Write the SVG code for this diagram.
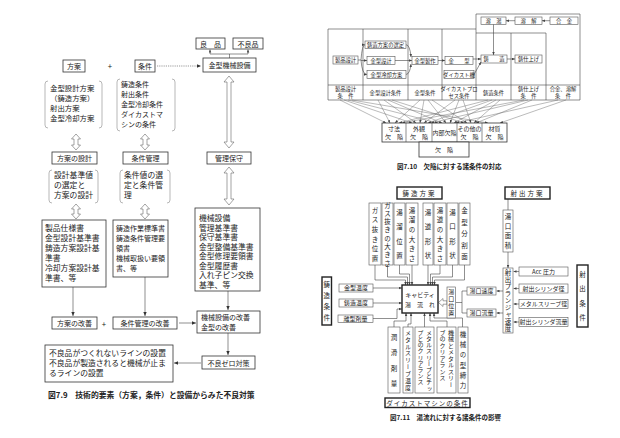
<svg xmlns="http://www.w3.org/2000/svg" width="620" height="438" viewBox="0 0 620 438">
<defs>
<style>
.t{font-family:"Noto Sans CJK JP","Noto Sans",sans-serif;fill:#222}
.f8{font-size:7.8px}
.f75{font-size:7.4px}
.f7{font-size:7px}
.f5{font-size:5.3px}
.f6{font-size:6px}
.f65{font-size:6.5px}
.m{text-anchor:middle}
.bd{font-weight:bold}
.b{fill:#fff;stroke:#333;stroke-width:0.8}
.bk{fill:#fff;stroke:#222;stroke-width:1.4}
.g{fill:#fff;stroke:#555;stroke-width:0.6}
.ln{fill:none;stroke:#444;stroke-width:0.6}
.fl{fill:none;stroke:#666;stroke-width:0.45}
.dl{fill:none;stroke:#555;stroke-width:0.6;stroke-dasharray:1.2 1}
.br{fill:none;stroke:#888;stroke-width:0.6}
.da{fill:#fff;stroke:#666;stroke-width:0.6}
.v{writing-mode:vertical-rl;text-anchor:middle}
.vs{writing-mode:vertical-rl;text-anchor:start}
</style>
<marker id="a" viewBox="0 0 6 6" refX="6" refY="3" markerWidth="4" markerHeight="4" markerUnits="userSpaceOnUse" orient="auto"><path d="M0,0.5 L6,3 L0,5.5 z" fill="#333"/></marker>
<marker id="s" viewBox="0 0 6 6" refX="6" refY="3" markerWidth="3" markerHeight="3" markerUnits="userSpaceOnUse" orient="auto"><path d="M0,0.5 L6,3 L0,5.5 z" fill="#444"/></marker>
</defs>
<rect width="620" height="438" fill="#fff"/>

<!-- ===== Fig 7.9 ===== -->
<g id="connectors-79">
<path class="dl" d="M157,66 H201" marker-end="url(#a)"/>
<path class="ln" d="M229.5,58 V54 M210,54 H248"/>
<path class="ln" d="M210,54 V49.5" marker-end="url(#s)"/>
<path class="ln" d="M248,54 V49.5" marker-end="url(#s)"/>
<path class="da" d="M229,76 L234,82 H231 V142 H234 L229,148 L224,142 H227 V82 H224 Z"/>
<path class="da" d="M229,167 L234,173 H231 V199 H234 L229,205 L224,199 H227 V173 H224 Z"/>
<path class="da" d="M76,134 L80.5,139 H78 V145 H80.5 L76,150 L71.5,145 H74 V139 H71.5 Z"/>
<path class="da" d="M145,134 L149.5,139 H147 V145 H149.5 L145,150 L140.5,145 H143 V139 H140.5 Z"/>
<path class="da" d="M76,204 L80.5,209 H78 V214 H80.5 L76,219 L71.5,214 H74 V209 H71.5 Z"/>
<path class="da" d="M145,204 L149.5,209 H147 V214 H149.5 L145,219 L140.5,214 H143 V209 H140.5 Z"/>
<path class="ln" d="M73,287 V316" marker-end="url(#a)"/>
<path class="ln" d="M145,277 V316" marker-end="url(#a)"/>
<path class="ln" d="M228,291 V310" marker-end="url(#a)"/>
<path class="ln" d="M179,323 H196" marker-end="url(#a)"/>
<path class="ln" d="M228,333 V355" marker-end="url(#a)"/>
<path class="ln" d="M201,363 H174" marker-end="url(#a)"/>
<path class="br" d="M48,81 Q45,81 45,84 V125 Q45,128 48,128 M99,81 Q102,81 102,84 V125 Q102,128 99,128"/>
<path class="br" d="M120,79 Q117,79 117,82 V128 Q117,131 120,131 M172,79 Q175,79 175,82 V128 Q175,131 172,131"/>
<path class="br" d="M52,170 Q49,170 49,173 V200 Q49,203 52,203 M95,170 Q98,170 98,173 V200 Q98,203 95,203"/>
<path class="br" d="M123,170 Q120,170 120,173 V200 Q120,203 123,203 M167,170 Q170,170 170,173 V200 Q170,203 167,203"/>
</g>
<g id="n-ryohin"><rect class="b" x="196" y="38" width="29" height="11"/><text class="t f7 m" x="210.5" y="46.5">良　品</text></g>
<g id="n-furyohin"><rect class="b" x="233" y="38" width="30" height="11"/><text class="t f7 m" x="248" y="46.5">不良品</text></g>
<g id="n-hoan"><rect class="b" x="63" y="60" width="22" height="12"/><text class="t f7 m" x="74" y="69">方案</text></g>
<text class="t f8 m" x="110" y="69">+</text>
<g id="n-joken"><rect class="b" x="135" y="60" width="20" height="12"/><text class="t f7 m" x="145" y="69">条件</text></g>
<g id="n-setsubi"><rect class="b" x="203" y="58" width="53" height="14"/><text class="t f7 m" x="229.5" y="68">金型機械設備</text></g>
<g id="n-hoan-list" class="t f75">
<text x="50" y="91">金型設計方案</text><text x="50" y="101">（鋳造方案）</text><text x="50" y="111">射出方案</text><text x="50" y="121">金型冷却方案</text>
</g>
<g id="n-joken-list" class="t f7">
<text x="121" y="87">鋳造条件</text><text x="121" y="97">射出条件</text><text x="121" y="107">金型冷却条件</text><text x="121" y="117">ダイカストマ</text><text x="121" y="127">シンの条件</text>
</g>
<g id="n-hoan-sekkei"><rect class="b" x="52" y="152" width="45" height="12"/><text class="t f7 m" x="74.5" y="161">方案の設計</text></g>
<g id="n-joken-kanri"><rect class="b" x="123" y="152" width="45" height="12"/><text class="t f7 m" x="145.5" y="161">条件管理</text></g>
<g id="n-kanri-hoshu"><rect class="b" x="207" y="152" width="44" height="12"/><text class="t f7 m" x="229" y="161">管理保守</text></g>
<g id="n-sekkei-note" class="t f8"><text x="54" y="178">設計基準値</text><text x="54" y="188">の選定と</text><text x="54" y="198">方案の設計</text></g>
<g id="n-kanri-note" class="t f8"><text x="124" y="178">条件値の選</text><text x="124" y="188">定と条件管</text><text x="124" y="198">理</text></g>
<g id="n-docs1"><rect class="b" x="42" y="220" width="64" height="67"/>
<g class="t f8"><text x="45" y="231">製品仕様書</text><text x="45" y="241">金型設計基準書</text><text x="45" y="251">鋳造方案設計基</text><text x="45" y="261">準書</text><text x="45" y="271">冷却方案設計基</text><text x="45" y="281">準書、等</text></g></g>
<g id="n-docs2"><rect class="b" x="113" y="220" width="55" height="57"/>
<g class="t f7"><text x="116" y="231">鋳造作業標準書</text><text x="116" y="241">鋳造条件管理要</text><text x="116" y="251">領書</text><text x="116" y="261">機械取扱い要領</text><text x="116" y="271">書、等</text></g></g>
<g id="n-docs3"><rect class="b" x="195" y="208" width="65" height="83"/>
<g class="t f8"><text x="199" y="221">機械設備</text><text x="199" y="230.5">管理基準書</text><text x="199" y="240">保守基準書</text><text x="199" y="249.5">金型整備基準書</text><text x="199" y="259">金型修理要領書</text><text x="199" y="268.5">金型履歴書</text><text x="199" y="278">入れ子ピン交換</text><text x="199" y="287.5">基準、等</text></g></g>
<g id="n-hoan-kaizen"><rect class="b" x="52" y="317" width="45" height="12"/><text class="t f7 m" x="74.5" y="326">方案の改善</text></g>
<text class="t f8 m" x="104" y="327">+</text>
<g id="n-kanri-kaizen"><rect class="b" x="113" y="317" width="64" height="12"/><text class="t f7 m" x="145" y="326">条件管理の改善</text></g>
<g id="n-setsubi-kaizen"><rect class="b" x="197" y="311" width="63" height="22"/><text class="t f7" x="201" y="320">機械設備の改善</text><text class="t f7" x="201" y="330">金型の改善</text></g>
<g id="n-zero"><rect class="b" x="202" y="356" width="53" height="13"/><text class="t f7 m" x="228.5" y="365.5">不良ゼロ対策</text></g>
<g id="n-line"><rect class="b" x="45" y="345" width="128" height="37"/>
<g class="t f8"><text x="49" y="356">不良品がつくれないラインの設置</text><text x="49" y="366">不良品が製造されると機械が止ま</text><text x="49" y="376">るラインの設置</text></g></g>
<text class="t f8 bd" x="48" y="398">図7.9　技術的要素（方案，条件）と設備からみた不良対策</text>

<!-- ===== Fig 7.10 ===== -->
<g id="n-frame710">
<path class="ln" d="M328,29 H476 V14 H580 V100 H328 Z"/>
<path class="ln" d="M476,33 H546 M328,85 H580 M363,29 V100 M408,29 V100 M442,29 V100 M476,29 V100 M511,33 V100 M546,33 V100"/>
<g class="t f5 m">
<text x="345.5" y="91">製品設計</text><text x="345.5" y="98">条　件</text>
<text x="385.5" y="94.5">金型設計条件</text>
<text x="425" y="94.5">金型条件</text>
<text x="459" y="91">ダイカストプロ</text><text x="459" y="98">セス条件</text>
<text x="493.5" y="94.5">鋳造条件</text>
<text x="528.5" y="91">鋳仕上げ</text><text x="528.5" y="98">条　件</text>
<text x="563" y="91">合金、溶解</text><text x="563" y="98">条　件</text>
</g></g>
<g id="n-seihin"><rect class="g" x="333" y="56" width="25" height="8"/><text class="t f5 m" x="345.5" y="62">製品設計</text></g>
<g id="n-hoan-sentei"><rect class="g" x="365" y="41" width="41" height="7.5"/><text class="t f5 m" x="385.5" y="46.8">鋳造方案の選定</text></g>
<g id="n-kanagata-sekkei"><rect class="g" x="367" y="56.5" width="28" height="8"/><text class="t f5 m" x="381" y="62.5">金型設計</text></g>
<g id="n-reikyaku"><rect class="g" x="367" y="70.5" width="39" height="8"/><text class="t f5 m" x="386.5" y="76.5">金型冷却方案</text></g>
<g id="n-seisaku"><rect class="g" x="412" y="56.5" width="26" height="8"/><text class="t f5 m" x="425" y="62.5">金型製作</text></g>
<g id="n-kanagata"><rect class="g" x="445" y="56.5" width="28" height="8"/><text class="t f5 m" x="459" y="62.5">金　　型</text></g>
<g id="n-dc"><rect class="g" x="444" y="70.5" width="30" height="8"/><text class="t f5 m" x="459" y="76.5">ダイカスト機</text></g>
<g id="n-chuzo"><rect class="g" x="481" y="55" width="26" height="8"/><text class="t f5 m" x="494" y="61">鋳　　造</text></g>
<g id="n-shiage"><rect class="g" x="515" y="55" width="27" height="8"/><text class="t f5 m" x="528.5" y="61">鋳仕上げ</text></g>
<g id="n-yuto"><rect class="g" x="481" y="17" width="25" height="7.5"/><text class="t f5 m" x="493.5" y="22.8">溶　湯</text></g>
<g id="n-yokai"><rect class="g" x="515" y="17" width="27" height="7.5"/><text class="t f5 m" x="528.5" y="22.8">溶　解</text></g>
<g id="n-gokin"><rect class="g" x="550" y="17" width="28" height="7.5"/><text class="t f5 m" x="564" y="22.8">合　金</text></g>
<g id="connectors-710">
<path class="ln" d="M358,60 H361"/>
<path class="ln" d="M361,60 Q362,44.7 365,44.7" marker-end="url(#s)"/>
<path class="ln" d="M361,60.5 H367" marker-end="url(#s)"/>
<path class="ln" d="M361,60 Q362,74.5 367,74.5" marker-end="url(#s)"/>
<path class="ln" d="M406,44.7 Q410,45 411,57" marker-end="url(#s)"/>
<path class="ln" d="M395,60.5 H412" marker-end="url(#s)"/>
<path class="ln" d="M406,74.5 Q410,74 411,64" marker-end="url(#s)"/>
<path class="ln" d="M438,60.5 H445" marker-end="url(#s)"/>
<path class="ln" d="M473,59 H481" marker-end="url(#s)"/>
<path class="ln" d="M474,74.5 L481,62" marker-end="url(#s)"/>
<path class="ln" d="M507,59 H515" marker-end="url(#s)"/>
<path class="ln" d="M550,20.7 H542" marker-end="url(#s)"/>
<path class="ln" d="M515,20.7 H506" marker-end="url(#s)"/>
<path class="ln" d="M493.5,24.5 V55" marker-end="url(#s)"/>
<g class="fl">
<path d="M340,100 L386,123" marker-end="url(#s)"/>
<path d="M344,100 L412,123" marker-end="url(#s)"/>
<path d="M348,100 L438,123" marker-end="url(#s)"/>
<path d="M352,100 L488,123" marker-end="url(#s)"/>
<path d="M378,100 L390,123" marker-end="url(#s)"/>
<path d="M384,100 L416,123" marker-end="url(#s)"/>
<path d="M388,100 L442,123" marker-end="url(#s)"/>
<path d="M392,100 L464,123" marker-end="url(#s)"/>
<path d="M420,100 L395,123" marker-end="url(#s)"/>
<path d="M424,100 L420,123" marker-end="url(#s)"/>
<path d="M428,100 L446,123" marker-end="url(#s)"/>
<path d="M432,100 L467,123" marker-end="url(#s)"/>
<path d="M455,100 L424,123" marker-end="url(#s)"/>
<path d="M459,100 L450,123" marker-end="url(#s)"/>
<path d="M463,100 L471,123" marker-end="url(#s)"/>
<path d="M488,100 L399,123" marker-end="url(#s)"/>
<path d="M492,100 L428,123" marker-end="url(#s)"/>
<path d="M496,100 L454,123" marker-end="url(#s)"/>
<path d="M500,100 L474,123" marker-end="url(#s)"/>
<path d="M524,100 L402,123" marker-end="url(#s)"/>
<path d="M528,100 L431,123" marker-end="url(#s)"/>
<path d="M532,100 L476,123" marker-end="url(#s)"/>
<path d="M558,100 L456,123" marker-end="url(#s)"/>
<path d="M566,100 L500,123" marker-end="url(#s)"/>
</g></g>
<g id="n-defects">
<rect class="b" x="382" y="123" width="125" height="19"/>
<path class="ln" d="M406,123 V142 M432,123 V142 M457,123 V142 M482,123 V142"/>
<g class="t f6 m">
<text x="394" y="131">寸法</text><text x="394" y="139">欠　陥</text>
<text x="419" y="131">外観</text><text x="419" y="139">欠　陥</text>
<text x="444.5" y="135">内部欠陥</text>
<text x="469.5" y="131">その他の</text><text x="469.5" y="139">欠　陥</text>
<text x="494.5" y="131">材質</text><text x="494.5" y="139">欠　陥</text>
</g></g>
<g id="n-kekkan"><rect class="b" x="419" y="142" width="50" height="15"/><text class="t f6 m" x="444" y="152">欠　陥</text></g>
<text class="t f65 bd" x="397" y="169">図7.10　欠陥に対する諸条件の対応</text>

<!-- ===== Fig 7.11 ===== -->
<g id="connectors-711">
<path class="ln" d="M508,199 V210"/>
<path class="ln" d="M375,265 V280 H405.5 V285" marker-end="url(#s)"/>
<path class="ln" d="M387.5,265 V277 H407.5 V285" marker-end="url(#s)"/>
<path class="ln" d="M399.5,265 V274 H409.5 V285" marker-end="url(#s)"/>
<path class="ln" d="M412,265 V285" marker-end="url(#s)"/>
<path class="ln" d="M428,265 V285" marker-end="url(#s)"/>
<path class="ln" d="M440,265 V274 H430.5 V285" marker-end="url(#s)"/>
<path class="ln" d="M452.5,265 V277 H432.5 V285" marker-end="url(#s)"/>
<path class="ln" d="M464.5,265 V280 H434.5 V285" marker-end="url(#s)"/>
<path class="ln" d="M373,288 H402" marker-end="url(#s)"/>
<path class="ln" d="M373,303 H402" marker-end="url(#s)"/>
<path class="ln" d="M373,318.5 H397 V309 H402" marker-end="url(#s)"/>
<path class="ln" d="M394,327 V321 H406 V313" marker-end="url(#s)"/>
<path class="ln" d="M408,327 V324 H411 V313" marker-end="url(#s)"/>
<path class="ln" d="M424.5,327 V313" marker-end="url(#s)"/>
<path class="ln" d="M447,327 V321 H430 V313" marker-end="url(#s)"/>
<path class="ln" d="M462.5,327 V318 H434 V313" marker-end="url(#s)"/>
<path class="ln" d="M508,252 V268" marker-end="url(#s)"/>
<path class="ln" d="M519,271.5 H513.5" marker-end="url(#s)"/>
<path class="ln" d="M519,288.5 H513.5" marker-end="url(#s)"/>
<path class="ln" d="M519,304 H513.5" marker-end="url(#s)"/>
<path class="ln" d="M519,322 H513.5" marker-end="url(#s)"/>
<path class="ln" d="M503,291 H496.5" marker-end="url(#s)"/>
<path class="ln" d="M503,313 H496.5" marker-end="url(#s)"/>
<path class="ln" d="M467,291 H462 V313 H467 M462,302.5 H456"/>
<path class="da" d="M438.5,302.5 L443,298.5 V300.8 H447 V304.2 H443 V306.5 Z"/>
</g>
<g id="n-chuzo-hoan"><rect class="bk" x="397" y="187" width="45" height="12"/><text class="t f65 m" x="419.5" y="195.5" letter-spacing="2">鋳造方案</text></g>
<g id="n-shashutsu-hoan"><rect class="bk" x="505" y="187" width="45" height="12"/><text class="t f65 m" x="527.5" y="195.5" letter-spacing="2">射出方案</text></g>
<g id="n-v1"><rect class="g" x="369" y="203" width="12" height="62"/><text class="t f65 v" x="375" y="236" letter-spacing="3.2">ガス抜き位置</text></g>
<g id="n-v2"><rect class="g" x="382" y="203" width="11" height="62"/><text class="t f65 v" x="387.5" y="235" letter-spacing="1.8">ガス抜きの大きさ</text></g>
<g id="n-v3"><rect class="g" x="394" y="203" width="11" height="62"/><text class="t f65 v" x="399.5" y="238" letter-spacing="8">湯溜位置</text></g>
<g id="n-v4"><rect class="g" x="406" y="203" width="12" height="62"/><text class="t f65 v" x="412" y="236" letter-spacing="3.2">湯溜の大きさ</text></g>
<g id="n-v5"><rect class="g" x="423" y="203" width="10" height="62"/><text class="t f65 v" x="428" y="238" letter-spacing="8">湯道形状</text></g>
<g id="n-v6"><rect class="g" x="434" y="203" width="12" height="62"/><text class="t f65 v" x="440" y="236" letter-spacing="3.2">湯道の大きさ</text></g>
<g id="n-v7"><rect class="g" x="447" y="203" width="11" height="62"/><text class="t f65 v" x="452.5" y="238" letter-spacing="8">湯口形状</text></g>
<g id="n-v8"><rect class="g" x="459" y="203" width="11" height="62"/><text class="t f65 v" x="464.5" y="236.5" letter-spacing="5">金型分割面</text></g>
<g id="n-cavity"><rect class="bk" x="402" y="285" width="36" height="28"/><text class="t f6 m" x="420" y="297">キャビティ</text><text class="t f6 m" x="420" y="307">湯　流　れ</text></g>
<g id="n-chuzo-joken"><rect class="bk" x="322" y="277" width="9.5" height="48"/><text class="t f65 v" x="326.75" y="303" letter-spacing="4.5">鋳造条件</text></g>
<g id="n-kanagata-ondo"><rect class="g" x="339" y="284" width="34" height="8"/><text class="t f6 m" x="356" y="290.3">金型温度</text></g>
<g id="n-chuzo-ondo"><rect class="g" x="339" y="299" width="34" height="8"/><text class="t f6 m" x="356" y="305.3">鋳造温度</text></g>
<g id="n-rikei"><rect class="g" x="338" y="315" width="35" height="7.5"/><text class="t f6 m" x="355.5" y="321">離型剤量</text></g>
<g id="n-b1"><rect class="g" x="388" y="327" width="12" height="66"/><text class="t f65 v" x="394" y="365" letter-spacing="9">潤滑剤量</text></g>
<g id="n-b2"><rect class="g" x="403" y="327" width="10" height="66"/><text class="t f6 v" x="408" y="360.5" letter-spacing="0.9">メタルスリーブ温度</text></g>
<g id="n-b3"><rect class="g" x="415" y="327" width="19" height="66"/><text class="t f6 vs" x="429" y="329.5" letter-spacing="0.2">メタルスリーブとチッ</text><text class="t f6 vs" x="420.5" y="329.5" letter-spacing="0.2">プとのクリアランス</text></g>
<g id="n-b4"><rect class="g" x="437" y="327" width="19" height="66"/><text class="t f6 vs" x="451" y="329.5" letter-spacing="0.5">機械とメタルスリー</text><text class="t f6 vs" x="442.5" y="329.5" letter-spacing="0.5">ブのクリアランス</text></g>
<g id="n-b5"><rect class="g" x="458" y="327" width="10" height="66"/><text class="t f65 v" x="463" y="362" letter-spacing="3.8">機械の型締力</text></g>
<g id="n-dc-joken"><rect class="bk" x="385" y="398" width="85" height="9.5"/><text class="t f65 m" x="427.5" y="405.5" letter-spacing="1">ダイカストマシンの条件</text></g>
<text class="t f65 bd" x="390" y="420">図7.11　湯流れに対する諸条件の影響</text>
<g id="n-yuguchi-menseki"><rect class="g" x="503" y="210" width="10" height="42"/><text class="t f65 v" x="508" y="232.5" letter-spacing="3">湯口面積</text></g>
<g id="n-plunger"><rect class="g" x="503" y="268" width="10" height="65"/><text class="t f65 v" x="508" y="301" letter-spacing="0.5">射出プランジャ速度</text></g>
<g id="n-acc"><rect class="g" x="519" y="267" width="49" height="9"/><text class="t f6 m" x="543.5" y="273.8">Acc 圧力</text></g>
<g id="n-cyl"><rect class="g" x="519" y="284" width="49" height="9"/><text class="t f6 m" x="543.5" y="290.8">射出シリンダ径</text></g>
<g id="n-sleeve"><rect class="g" x="519" y="299.5" width="49" height="9"/><text class="t f6 m" x="543.5" y="306.3">メタルスリーブ径</text></g>
<g id="n-flow"><rect class="g" x="519" y="317.5" width="49" height="9"/><text class="t f6 m" x="543.5" y="324.3">射出シリンダ流量</text></g>
<g id="n-shashutsu-joken"><rect class="bk" x="577" y="265" width="11" height="62"/><text class="t f65 v" x="582.5" y="300" letter-spacing="8">射出条件</text></g>
<g id="n-yuguchi-sokudo"><rect class="g" x="467" y="287" width="29" height="8"/><text class="t f6 m" x="481.5" y="293.3">湯口速度</text></g>
<g id="n-yuguchi-ryuryo"><rect class="g" x="467" y="309" width="29" height="8"/><text class="t f6 m" x="481.5" y="315.3">湯口流量</text></g>
<g id="n-yuguchi-ichi"><rect class="g" x="447" y="287" width="8.5" height="31"/><text class="t f6 v" x="451.25" y="303" letter-spacing="1.2">湯口位置</text></g>
</svg>
